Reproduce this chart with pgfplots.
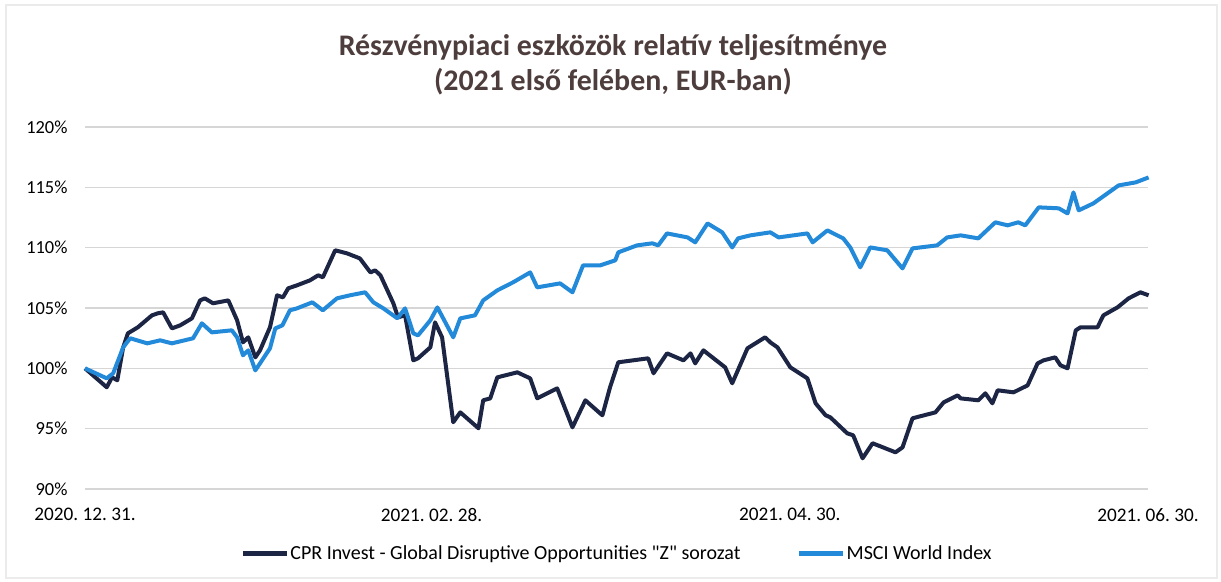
\documentclass[border=0pt]{standalone}
\usepackage{pgfplots}
\pgfplotsset{compat=1.18}
\usepackage{fontspec}
\setmainfont{Carlito}
\font\legfont="Carlito" at 20bp
\definecolor{cprdark}{HTML}{1C2544}
\definecolor{msciblue}{HTML}{2389D9}
\definecolor{titlecol}{HTML}{4E3D3D}
\definecolor{gridcol}{HTML}{D6D6D6}
\begin{document}
\begin{tikzpicture}[x=1bp,y=1bp]
\useasboundingbox (0,0) rectangle (1221,582);
\draw[color=black!8, line width=1.2bp] (6,4) rectangle (1217,577);
\node[font=\fontsize{30}{35}\selectfont\bfseries, text=titlecol, align=center] at (613,517) {Részvénypiaci eszközök relatív teljesítménye\\(2021 első felében, EUR-ban)};
\begin{axis}[
  at={(85bp,93bp)}, anchor=origin,
  scale only axis, width=1063bp, height=362bp,
  xmin=0, xmax=181, ymin=90, ymax=120,
  axis line style={draw=none},
  axis x line*=bottom,
  ytick={90,95,...,120},
  xtick={0,59,120,181},
  xticklabels={2020.\ 12.\ 31.,2021.\ 02.\ 28.,2021.\ 04.\ 30.,2021.\ 06.\ 30.},
  yticklabel={\pgfmathprintnumber{\tick}\%},
  /pgf/number format/assume math mode=true,
  tick style={draw=none},
  ymajorgrids, grid style={gridcol, line width=1.6bp},
  yticklabel style={font=\fontsize{18.5}{21}\selectfont, text=black, xshift=-14bp},
  xticklabel style={font=\fontsize{19.3}{22}\selectfont, text=black, yshift=-16bp},
  legend style={at={(0.5,-0.177)}, anchor=center, draw=none, fill=none,
    font=\legfont,
    nodes={inner xsep=1bp},
    /tikz/every even column/.append style={column sep=55bp}},
  legend columns=2,
  legend image code/.code={\draw[#1, line width=5bp] (0bp,0bp) -- (44bp,0bp);},
  clip=false,
]
\addplot[cprdark, line width=4bp, line join=round] coordinates {
(0,100.00)(3.7,98.43)(4.6,99.25)(5.5,99.01)(6.5,101.74)(7.3,102.90)(9.0,103.40)
(11.4,104.39)(12.4,104.56)(13.3,104.64)(14.8,103.31)(16.2,103.56)(18.2,104.14)
(19.6,105.63)(20.4,105.80)(21.8,105.39)(24.4,105.63)(25.9,103.98)(26.9,102.15)
(27.8,102.57)(29.0,100.91)(29.8,101.49)(31.5,103.40)(32.7,106.05)(33.7,105.88)
(34.6,106.63)(36.1,106.88)(38.3,107.29)(39.7,107.71)(40.5,107.54)(42.6,109.78)
(44.6,109.53)(46.8,109.11)(48.6,107.95)(49.4,108.12)(50.3,107.71)(52.5,105.39)
(53.3,104.23)(54.5,104.39)(55.9,100.66)(56.7,100.83)(58.8,101.74)(59.6,103.81)
(60.8,102.57)(62.7,95.53)(63.9,96.35)(67.0,95.03)(67.8,97.35)(69.0,97.51)
(70.2,99.25)(73.6,99.67)(75.8,99.17)(77.0,97.51)(80.4,98.34)(83.0,95.11)
(85.2,97.35)(87.7,96.27)(88.1,96.11)(89.4,98.43)(90.8,100.50)(95.9,100.83)
(96.8,99.59)(99.1,101.24)(101.9,100.66)(103.1,101.24)(103.9,100.41)(105.3,101.49)
(109.0,100.08)(110.2,98.76)(112.8,101.66)(115.8,102.57)(116.7,102.15)(117.9,101.74)
(120.1,100.08)(123.0,99.17)(124.4,97.10)(126.1,96.11)(126.9,95.94)(129.8,94.61)
(130.8,94.45)(132.4,92.54)(134.1,93.79)(138.0,93.04)(139.2,93.45)(140.9,95.86)
(144.8,96.35)(146.2,97.18)(148.6,97.76)(149.1,97.51)(152.1,97.35)(153.3,97.93)
(154.5,97.10)(155.4,98.18)(158.1,98.01)(160.5,98.59)(162.2,100.41)(163.2,100.66)
(165.2,100.91)(166.1,100.25)(167.3,100.00)(168.7,103.15)(169.5,103.40)(172.4,103.40)
(173.4,104.39)(175.8,105.05)(177.7,105.80)(179.7,106.30)(181.1,106.05)
};
\addlegendentry{CPR Invest - Global Disruptive Opportunities "Z" sorozat}
\addplot[msciblue, line width=4bp, line join=round] coordinates {
(0,100.00)(3.7,99.17)(4.8,99.59)(6.5,101.74)(7.7,102.49)(10.6,102.07)(12.8,102.32)
(14.8,102.07)(18.4,102.49)(19.9,103.73)(21.6,102.98)(25.0,103.15)(25.9,102.57)
(26.9,101.08)(27.8,101.49)(29.0,99.83)(29.8,100.41)(31.5,101.66)(32.4,103.31)
(33.6,103.56)(34.9,104.81)(36.1,104.97)(38.7,105.47)(40.5,104.81)(42.9,105.80)
(45.1,106.05)(47.7,106.30)(49.1,105.47)(50.8,104.97)(53.2,104.14)(54.5,104.97)
(55.9,102.90)(56.7,102.73)(58.8,103.98)(60.0,105.05)(62.7,102.57)(63.9,104.14)
(66.4,104.39)(67.8,105.63)(70.2,106.46)(72.9,107.13)(75.8,107.95)(77.0,106.71)
(80.9,107.04)(83.0,106.30)(84.8,108.53)(87.7,108.53)(90.3,108.95)(90.8,109.61)
(94.0,110.19)(96.6,110.36)(97.6,110.19)(99.1,111.18)(102.6,110.85)(103.9,110.44)
(106.0,112.01)(108.5,111.27)(110.2,110.02)(111.2,110.77)(113.3,111.02)(116.7,111.27)
(118.1,110.85)(123.0,111.18)(123.9,110.44)(126.4,111.43)(129.1,110.77)(130.3,110.02)
(132.0,108.37)(133.7,110.02)(136.6,109.78)(139.2,108.28)(140.9,109.94)(145.1,110.19)
(146.8,110.85)(149.1,111.02)(152.1,110.77)(155.0,112.10)(157.1,111.85)(158.9,112.10)
(160.1,111.85)(162.4,113.34)(165.8,113.26)(167.3,112.84)(168.3,114.58)(169.2,113.09)
(171.7,113.67)(176.0,115.16)(178.9,115.41)(181.1,115.82)
};
\addlegendentry{MSCI World Index}
\end{axis}
\end{tikzpicture}
\end{document}
